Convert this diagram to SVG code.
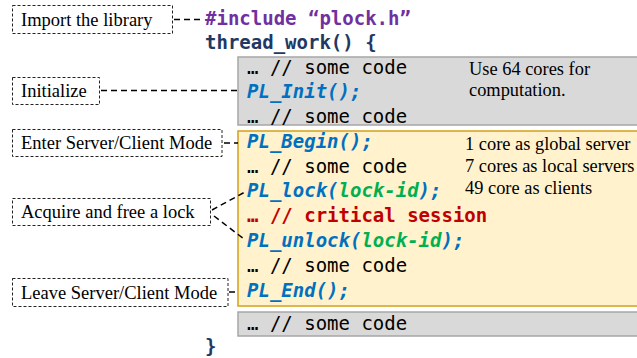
<svg xmlns="http://www.w3.org/2000/svg" width="637" height="358" viewBox="0 0 637 358">
  <style>
    .code { font-family: "DejaVu Sans Mono", "Liberation Mono", monospace; font-size: 19px; }
    .plain { fill: #000; }
    .kw { fill: #7030a0; font-weight: bold; }
    .fn { fill: #1f3864; font-weight: bold; }
    .api { fill: #0070c0; font-weight: bold; font-style: italic; }
    .arg { fill: #00b050; }
    .crit { fill: #c00000; font-weight: bold; }
    .note { font-family: "Liberation Serif", "Times New Roman", serif; font-size: 18.4px; fill: #000; }
    .label rect { fill: #fff; stroke: #222; stroke-width: 1; stroke-dasharray: 3 2; }
    .label text { font-family: "Liberation Serif", "Times New Roman", serif; font-size: 18.5px; fill: #000; }
    .gray { fill: #d9d9d9; stroke: #a6a6a6; stroke-width: 1.5; }
    .yellow { fill: #fff2cc; stroke: #d4a017; stroke-width: 1.5; }
    .conn { fill: none; stroke: #000; stroke-width: 1.5; stroke-dasharray: 6 4; }
  </style>

  <!-- code regions -->
  <g id="region-init">
    <rect class="gray" x="238" y="57" width="420" height="68"/>
    <text class="note" x="469" y="75">Use 64 cores for</text>
    <text class="note" x="469" y="96">computation.</text>
  </g>
  <g id="region-server-client">
    <rect class="yellow" x="238" y="131" width="420" height="175"/>
    <text class="note" x="465" y="150">1 core as global server</text>
    <text class="note" x="465" y="172">7 cores as local servers</text>
    <text class="note" x="465" y="194">49 core as clients</text>
  </g>
  <g id="region-tail">
    <rect class="gray" x="238" y="312" width="420" height="24"/>
  </g>

  <!-- source listing -->
  <g id="listing" class="code">
    <text x="205" y="25" class="kw">#include “plock.h”</text>
    <text x="205" y="49" class="fn">thread_work() {</text>
    <text x="247" y="74" class="plain">… // some code</text>
    <text x="247" y="98" class="api">PL_Init();</text>
    <text x="247" y="123" class="plain">… // some code</text>
    <text x="247" y="148" class="api">PL_Begin();</text>
    <text x="247" y="173" class="plain">… // some code</text>
    <text x="247" y="197" class="api">PL_lock(<tspan class="arg">lock-id</tspan>);</text>
    <text x="247" y="222" class="crit">… // critical session</text>
    <text x="247" y="247" class="api">PL_unlock(<tspan class="arg">lock-id</tspan>);</text>
    <text x="247" y="272" class="plain">… // some code</text>
    <text x="247" y="297" class="api">PL_End();</text>
    <text x="247" y="330" class="plain">… // some code</text>
    <text x="205" y="353" class="fn">}</text>
  </g>

  <!-- annotation labels -->
  <g id="label-import" class="label">
    <rect x="12.5" y="5.5" width="160" height="28"/>
    <text x="21" y="26">Import the library</text>
  </g>
  <g id="label-init" class="label">
    <rect x="12.5" y="77.5" width="87" height="27"/>
    <text x="21" y="97">Initialize</text>
  </g>
  <g id="label-enter" class="label">
    <rect x="12.5" y="129.5" width="209.5" height="27"/>
    <text x="21" y="149">Enter Server/Client Mode</text>
  </g>
  <g id="label-lock" class="label">
    <rect x="12.5" y="198.5" width="198" height="27"/>
    <text x="21" y="218">Acquire and free a lock</text>
  </g>
  <g id="label-leave" class="label">
    <rect x="12.5" y="278.5" width="215.5" height="28"/>
    <text x="21" y="299">Leave Server/Client Mode</text>
  </g>

  <!-- connectors -->
  <g id="connectors">
    <line class="conn" x1="174" y1="19.5" x2="200" y2="19.5"/>
    <line class="conn" x1="101" y1="90.5" x2="238" y2="90.5"/>
    <line class="conn" x1="224" y1="143" x2="238" y2="143"/>
    <line class="conn" x1="212" y1="210" x2="245" y2="192"/>
    <line class="conn" x1="214" y1="216" x2="244" y2="239"/>
    <line class="conn" x1="229" y1="292" x2="238" y2="292"/>
  </g>
</svg>
